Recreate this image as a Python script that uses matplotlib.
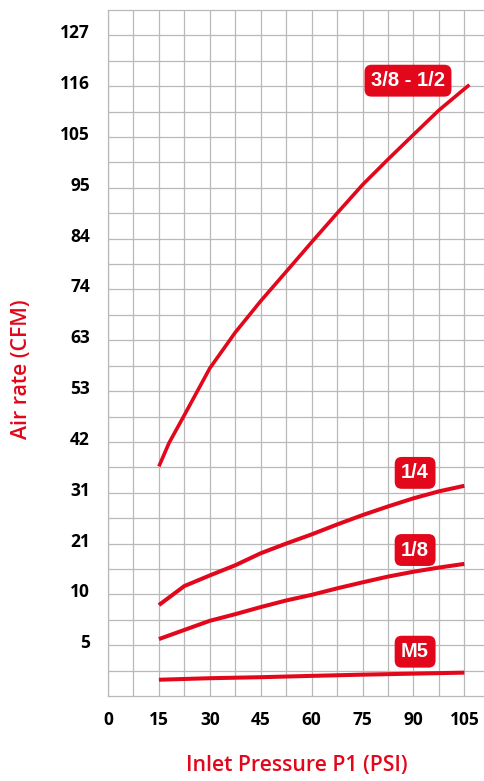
import numpy as np
import matplotlib
matplotlib.use("Agg")
import matplotlib.pyplot as plt
from matplotlib.transforms import ScaledTranslation

RED = "#e2071b"
GRID = "#b9b9b9"

# y tick labels (CFM), evenly spaced on the chart
y_ticks = [5, 10, 21, 31, 42, 53, 63, 74, 84, 95, 105, 116, 127]
x_ticks = [0, 15, 30, 45, 60, 75, 90, 105]

# curves, pressure in PSI, air rate in CFM
big_x = [15, 18, 22.5, 30, 37.5, 45, 52.5, 60, 67.5, 75, 82.5, 90, 97.5, 105, 106.5]
big_y = [36.7, 41.8, 47.8, 57.5, 64.7, 71.5, 77.5, 83.3, 89.5, 95.6, 100.6, 105.5, 110.8, 115.4, 116.3]

q_x = [15, 22.5, 30, 37.5, 45, 52.5, 60, 67.5, 75, 82.5, 90, 97.5, 105]
q_y = [8.95, 11.8, 14.1, 16.3, 18.9, 21.0, 22.8, 24.75, 26.6, 28.3, 29.9, 31.3, 32.5]

e_x = [15, 22.5, 30, 37.5, 45, 52.5, 60, 67.5, 75, 82.5, 90, 97.5, 105]
e_y = [5.6, 6.5, 7.4, 8.05, 8.75, 9.4, 9.95, 11.3, 12.6, 13.85, 14.9, 15.8, 16.6]

m5_x = [15, 30, 45, 60, 75, 90, 105]
m5_y = [1.6, 1.75, 1.85, 1.98, 2.1, 2.2, 2.3]

labels = ["3/8 - 1/2", "1/4", "1/8", "M5"]
label_x = [88.4, 90.5, 90.5, 90.5]
label_y = [117.2, 35.3, 19.6, 4.36]

# piecewise scale: each label sits 2 grid rows above the previous one
vals = np.array([0] + y_ticks + [y_ticks[-1] + (y_ticks[-1] - y_ticks[-2]) / 2])
pos = np.array([0] + [2 * (i + 1) for i in range(len(y_ticks))] + [2 * len(y_ticks) + 1])


def fwd(v):
    return np.interp(v, vals, pos)


def inv(p):
    return np.interp(p, pos, vals)


fig = plt.figure(figsize=(4.84, 7.81), dpi=100)
ax = fig.add_axes([108 / 484, 1 - 696 / 781, 376 / 484, 686 / 781])
ax.set_yscale("function", functions=(fwd, inv))

ax.set_xlim(0, 110.8)
ax.set_ylim(0, vals[-1])

ax.set_xticks(x_ticks)
ax.set_xticks(np.arange(0, 110, 7.5), minor=True)
ax.set_yticks(y_ticks)
ax.set_yticks(inv(np.arange(1, 27, 1.0)), minor=True)
ax.set_yticklabels([str(v) for v in y_ticks])
ax.set_xticklabels([str(v) for v in x_ticks])
ax.yaxis.set_minor_formatter(plt.NullFormatter())

ax.grid(True, which="both", color=GRID, lw=0.9)
ax.set_axisbelow(True)
for s in ["left", "bottom", "top"]:
    ax.spines[s].set_color(GRID)
    ax.spines[s].set_linewidth(0.9)
ax.spines["right"].set_visible(False)

ax.tick_params(which="both", length=0)
ax.tick_params(axis="y", pad=13)
ax.tick_params(axis="x", pad=11)
for lbl in ax.get_yticklabels() + ax.get_xticklabels():
    lbl.set_fontfamily("Open Sans")
    lbl.set_fontweight("bold")
    lbl.set_fontsize(12.5)
for lbl in ax.get_yticklabels():
    lbl.set_transform(lbl.get_transform() + ScaledTranslation(0, 4 / 100, fig.dpi_scale_trans))

ax.plot(big_x, big_y, color=RED, lw=2.6, solid_capstyle="butt")
ax.plot(q_x, q_y, color=RED, lw=2.9, solid_capstyle="butt")
ax.plot(e_x, e_y, color=RED, lw=2.9, solid_capstyle="butt")
ax.plot(m5_x, m5_y, color=RED, lw=2.9, solid_capstyle="butt")

for t, lx, ly in zip(labels, label_x, label_y):
    ax.text(lx, ly, t, color="white", fontsize=14.5, fontweight="bold",
            family="Liberation Sans", ha="center", va="center",
            bbox=dict(boxstyle="round,pad=0.32,rounding_size=0.35", fc=RED, ec="none"))

ax.set_ylabel("Air rate (CFM)", color=RED, fontsize=15.3, family="Open Sans",
              fontweight="semibold", va="center")
ax.yaxis.set_label_coords(-0.229, 0.477)
ax.set_xlabel("Inlet Pressure P1 (PSI)", color=RED, fontsize=15.3, family="Open Sans",
              fontweight="semibold", va="center")
ax.xaxis.set_label_coords(0.501, -0.102)

fig.savefig("out.png", dpi=100)
